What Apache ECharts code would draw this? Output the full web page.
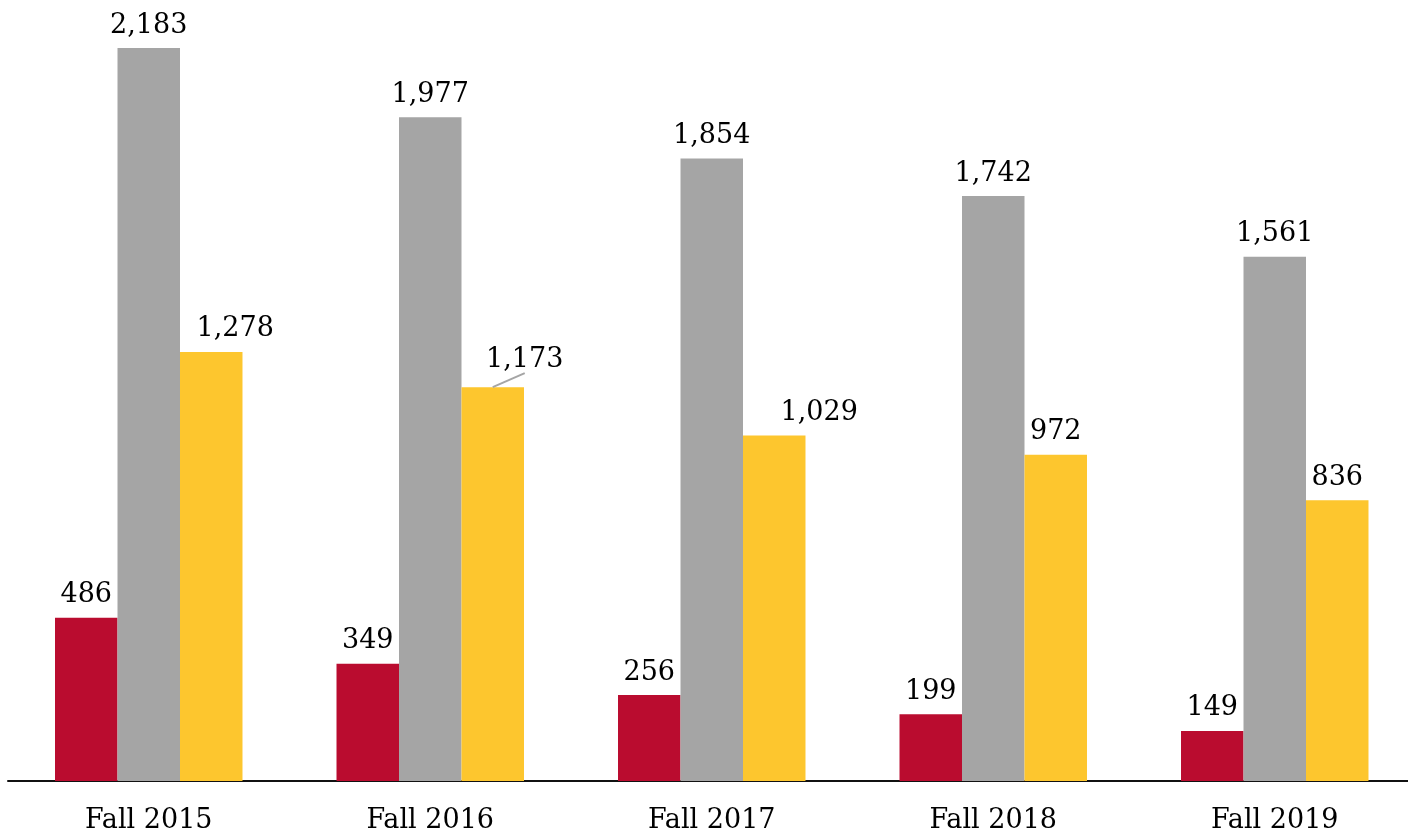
<!DOCTYPE html>
<html>
<head>
<meta charset="utf-8">
<script src="https://cdn.jsdelivr.net/npm/echarts@6/dist/echarts.min.js"></script>
<style>
  html, body { margin: 0; padding: 0; background: #fff; }
  #main { width: 1408px; height: 839px; }
</style>
</head>
<body>
<div id="main"></div>
<script>
// categories and the three series
var categories = ['Fall 2015', 'Fall 2016', 'Fall 2017', 'Fall 2018', 'Fall 2019'];
var redValues = [486, 349, 256, 199, 149];
var grayValues = [2183, 1977, 1854, 1742, 1561];
var yellowValues = [1278, 1173, 1029, 972, 836];

// some yellow labels sit to the right of their bar
var yellowShift = [24, 32, 45, 0, 0];
var yellowLift = [0, -5, 0, 0, 0];
var leaderIndex = 1; // the only label with a guide line

var chart = echarts.init(document.getElementById('main'));

var labelFont = {
  show: true,
  position: 'top',
  distance: 9,
  color: '#000',
  fontFamily: 'DejaVu Serif',
  fontSize: 27,
  formatter: function (p) { return p.value.toLocaleString('en-US'); }
};

chart.setOption({
  animation: false,
  grid: { left: 8, top: 48, right: -7.5, height: 733, containLabel: false, outerBoundsMode: 'none' },
  xAxis: {
    type: 'category',
    data: categories,
    axisTick: { show: false },
    axisLine: { lineStyle: { color: '#111', width: 2 } },
    axisLabel: {
      color: '#000',
      fontFamily: 'DejaVu Serif',
      fontSize: 27,
      margin: 26
    }
  },
  yAxis: {
    type: 'value',
    min: 0,
    max: 2183,
    show: false,
    splitLine: { show: false }
  },
  series: [
    {
      type: 'bar',
      data: redValues,
      barGap: '0%',
      barCategoryGap: '33.4%',
      itemStyle: { color: '#BA0C2F' },
      label: labelFont
    },
    {
      type: 'bar',
      data: grayValues,
      barGap: '0%',
      barCategoryGap: '33.4%',
      itemStyle: { color: '#A5A5A5' },
      label: labelFont
    },
    {
      type: 'bar',
      data: yellowValues,
      barGap: '0%',
      barCategoryGap: '33.4%',
      itemStyle: { color: '#FDC62E' },
      label: labelFont,
      labelLayout: function (p) {
        return { dx: yellowShift[p.dataIndex], dy: yellowLift[p.dataIndex] };
      }
    },
    {
      // guide line from the top of the yellow bar to its moved label
      type: 'custom',
      silent: true,
      z: 5,
      data: [[leaderIndex, yellowValues[leaderIndex]]],
      renderItem: function (params, api) {
        var p = api.coord([api.value(0), api.value(1)]);
        var band = api.size([1, 0])[0];
        var x0 = p[0] + band * (1 - 0.334) / 3;
        var y0 = p[1];
        return {
          type: 'line',
          shape: { x1: x0, y1: y0, x2: x0 + 32, y2: y0 - 14 },
          style: { stroke: '#A5A5A5', lineWidth: 2 }
        };
      }
    }
  ]
});
</script>
</body>
</html>
